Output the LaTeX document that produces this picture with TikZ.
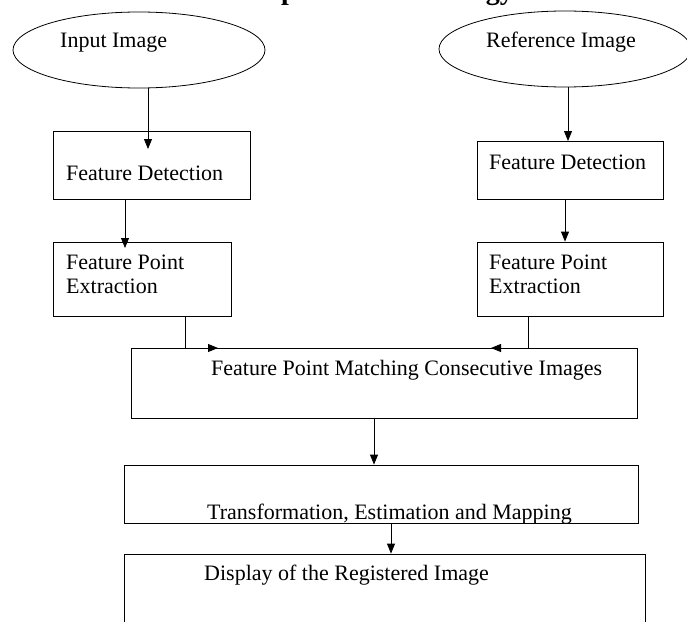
\documentclass[tikz,border=0pt]{standalone}
\usepackage{fontspec}
\setmainfont{Liberation Serif}
\usetikzlibrary{shapes.geometric,arrows.meta}
\newcommand{\bodysize}{\fontsize{22}{24}\selectfont}
\tikzset{
  flowbox/.style={draw, line width=0.8pt, inner sep=0pt},
  srcoval/.style={draw, ellipse, line width=0.8pt, inner sep=0pt, minimum width=252pt, minimum height=76pt},
  boxtext/.style={font=\bodysize, inner sep=0pt, anchor=base west},
  arr/.style={line width=0.8pt, -{Triangle[length=10pt,width=8pt]}}
}
\begin{document}
\begin{tikzpicture}[x=1pt, y=-1pt]
        \clip (0,0) rectangle (687,621);
        \node[font=\fontsize{28}{30}\selectfont\bfseries, inner sep=0pt, anchor=base west] (title) at (238,-1) {Proposed Methodology};
        % source images
        \node[srcoval] (inimg) at (139,50) {};
        \node[boxtext] (inimgtxt) at (60,47) {Input Image};
        \node[srcoval] (refimg) at (565,49) {};
        \node[boxtext] (refimgtxt) at (486,47) {Reference Image};
        % left column
        \node[flowbox, minimum width=197pt, minimum height=68pt] (detL) at (151.5,165) {};
        \node[boxtext] (detLtxt) at (66,180) {Feature Detection};
        \node[flowbox, minimum width=178pt, minimum height=74pt] (ptL) at (142,279) {};
        \node[boxtext, align=left, anchor=north west] (ptLtxt) at (66,255) {Feature Point\\Extraction};
        % right column
        \node[flowbox, minimum width=186pt, minimum height=58pt] (detR) at (570,170) {};
        \node[boxtext] (detRtxt) at (489,169) {Feature Detection};
        \node[flowbox, minimum width=186pt, minimum height=74pt] (ptR) at (570,279) {};
        \node[boxtext, align=left, anchor=north west] (ptRtxt) at (489,255) {Feature Point\\Extraction};
        % common part
        \node[flowbox, minimum width=506pt, minimum height=70pt] (match) at (384,383) {};
        \node[boxtext] (matchtxt) at (211,375) {Feature Point Matching Consecutive Images};
        \node[flowbox, minimum width=514pt, minimum height=58pt] (trans) at (381,494) {};
        \begin{scope}
            \clip (trans.south west) rectangle (trans.north east);
            \node[boxtext] (transtxt) at (207,519) {Transformation, Estimation and Mapping};
        \end{scope}
        \node[flowbox, minimum width=521pt, minimum height=92pt] (disp) at (384.5,600) {};
        \node[boxtext] (disptxt) at (204,580) {Display of the Registered Image};
        % connectors
        \coordinate (tipA) at (148,149);
        \coordinate (tipB) at (125,248);
        \coordinate (tipC) at (568,141);
        \coordinate (tipL) at (218,348);
        \coordinate (tipR) at (491,348);
        \draw[arr] (inimg.south -| tipA) -- (tipA);
        \draw[arr] (detL.south -| tipB) -- (tipB);
        \draw[arr] (refimg.south -| tipC) -- (tipC);
        \draw[arr] ([xshift=-5pt]detR.south) -- ([xshift=-5pt]ptR.north);
        \draw[arr] ([xshift=43pt]ptL.south) |- (tipL);
        \draw[arr] ([xshift=-42pt]ptR.south) |- (tipR);
        \draw[arr] ([xshift=-10pt]match.south) -- ([xshift=-7pt]trans.north);
        \draw[arr] ([xshift=10pt]trans.south) -- ([xshift=6.5pt]disp.north);
    \end{tikzpicture}
\end{document}
